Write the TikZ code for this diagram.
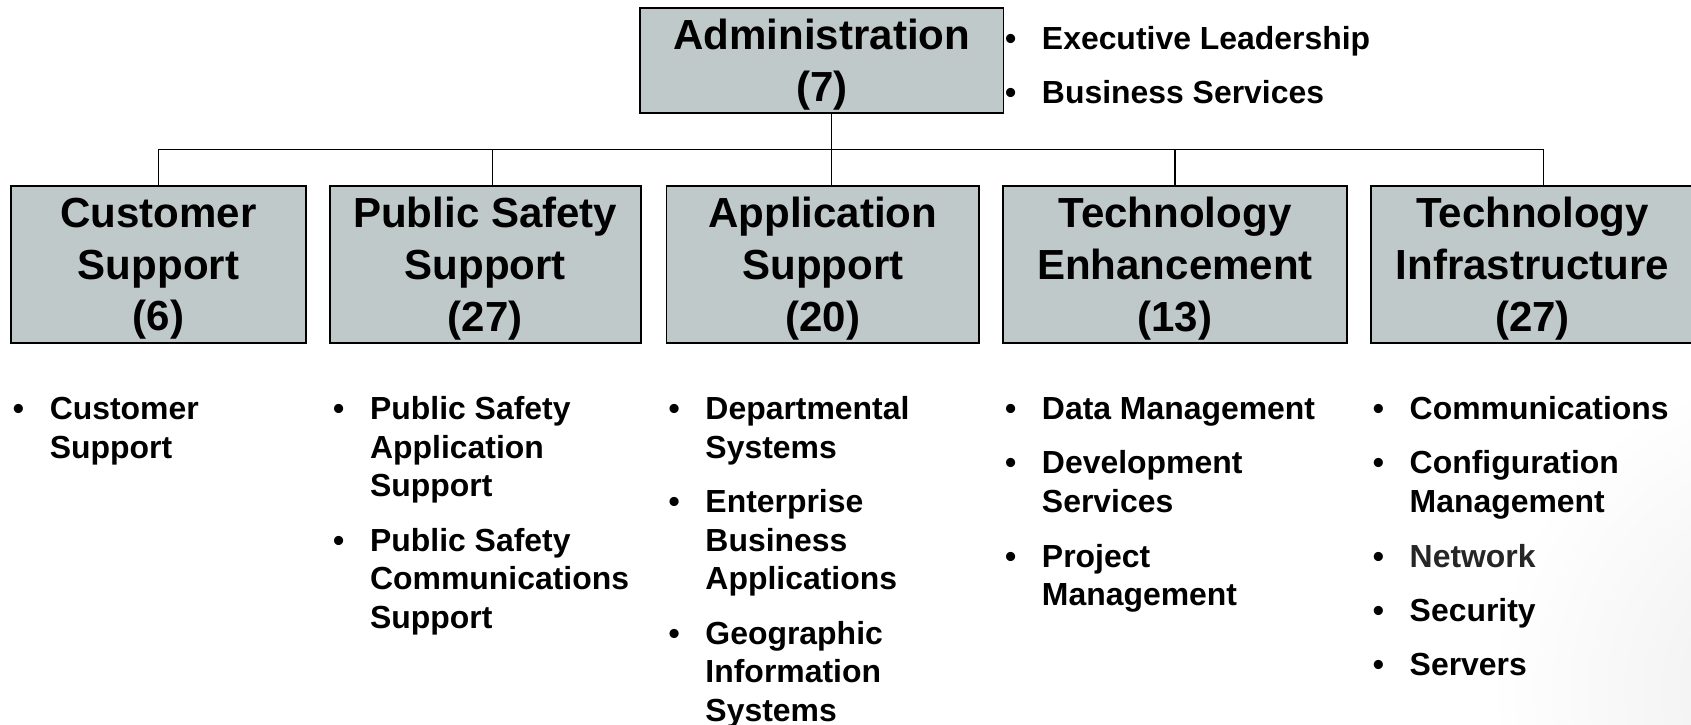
\documentclass[tikz,border=0pt]{standalone}
\usepackage{fontspec}
\setmainfont{Liberation Sans}
\definecolor{boxfill}{RGB}{192,201,201}
\definecolor{netgray}{RGB}{38,38,38}
\newcommand{\boxfont}{\fontsize{39}{48}\selectfont\bfseries}
\newcommand{\itemfont}{\fontsize{29.6}{35.8}\selectfont\bfseries}
\newcommand{\gap}{\\[14.7pt]}
\begin{document}
\begin{tikzpicture}[x=1pt,y=-1pt,
  unitbox/.style={draw=black, line width=1.8pt, fill=boxfill, align=center,
    font=\boxfont, inner sep=0pt, text depth=0pt, minimum height=145.5pt},
  itemlist/.style={anchor=base west, inner sep=0pt, font=\itemfont},
  link/.style={line width=1pt, draw=black}]
\useasboundingbox (0,0) rectangle (1568,672);

% soft background shading in the lower right corner
\begin{scope}
  \clip (1300,300) rectangle (1568,672);
  \shade[inner color=black!7, outer color=white] (1680,640) circle (300);
\end{scope}

% head unit
\node[unitbox, minimum width=337pt, minimum height=97pt] (admin) at (762,56)
  {Administration\\(7)};
\node[itemlist] (adminlist) at (931.8,45.5)
  {\begin{tabular}[t]{@{}c@{\hspace{23.8pt}}l@{}}
   • & Executive Leadership\gap
   • & Business Services
   \end{tabular}};

% divisions
\node[unitbox, minimum width=274pt] (cs)  at (147,245.25)   {Customer\\Support\\(6)};
\node[unitbox, minimum width=288pt] (ps)  at (450,245.25)   {Public Safety\\Support\\(27)};
\node[unitbox, minimum width=290pt] (app) at (763,245.25)   {Application\\Support\\(20)};
\node[unitbox, minimum width=319pt] (te)  at (1089.5,245.25){Technology\\Enhancement\\(13)};
\node[unitbox, minimum width=300pt] (ti)  at (1421,245.25)  {Technology\\Infrastructure\\(27)};

% connectors
\coordinate (bus)  at (0,138.5);
\coordinate (adm)  at ([xshift=9pt]admin.south);
\coordinate (dcs)  at (cs.north);
\coordinate (dps)  at ([xshift=7pt]ps.north);
\coordinate (dapp) at ([xshift=8pt]app.north);
\coordinate (dte)  at (te.north);
\coordinate (dti)  at ([xshift=10pt]ti.north);
\draw[link] (adm) -- (adm |- bus);
\draw[link] (dcs) -- (dcs |- bus) -- (dti |- bus) -- (dti);
\draw[link] (dps |- bus) -- (dps);
\draw[link] (dapp |- bus) -- (dapp);
\draw[link] (dte |- bus) -- (dte);

% task lists under each division
\node[itemlist] (cslist) at (11.8,389)
  {\begin{tabular}[t]{@{}c@{\hspace{23.8pt}}l@{}}
   • & Customer\\ & Support
   \end{tabular}};
\node[itemlist] (pslist) at (308.8,389)
  {\begin{tabular}[t]{@{}c@{\hspace{23.8pt}}l@{}}
   • & Public Safety\\ & Application\\ & Support\gap
   • & Public Safety\\ & Communications\\ & Support
   \end{tabular}};
\node[itemlist] (applist) at (619.8,389)
  {\begin{tabular}[t]{@{}c@{\hspace{23.8pt}}l@{}}
   • & Departmental\\ & Systems\gap
   • & Enterprise\\ & Business\\ & Applications\gap
   • & Geographic\\ & Information\\ & Systems
   \end{tabular}};
\node[itemlist] (telist) at (931.8,389)
  {\begin{tabular}[t]{@{}c@{\hspace{23.8pt}}l@{}}
   • & Data Management\gap
   • & Development\\ & Services\gap
   • & Project\\ & Management
   \end{tabular}};
\node[itemlist] (tilist) at (1272.8,389)
  {\begin{tabular}[t]{@{}c@{\hspace{23.8pt}}l@{}}
   • & Communications\gap
   • & Configuration\\ & Management\gap
   • & \textcolor{netgray}{Network}\gap
   • & Security\gap
   • & Servers
   \end{tabular}};
\end{tikzpicture}
\end{document}
